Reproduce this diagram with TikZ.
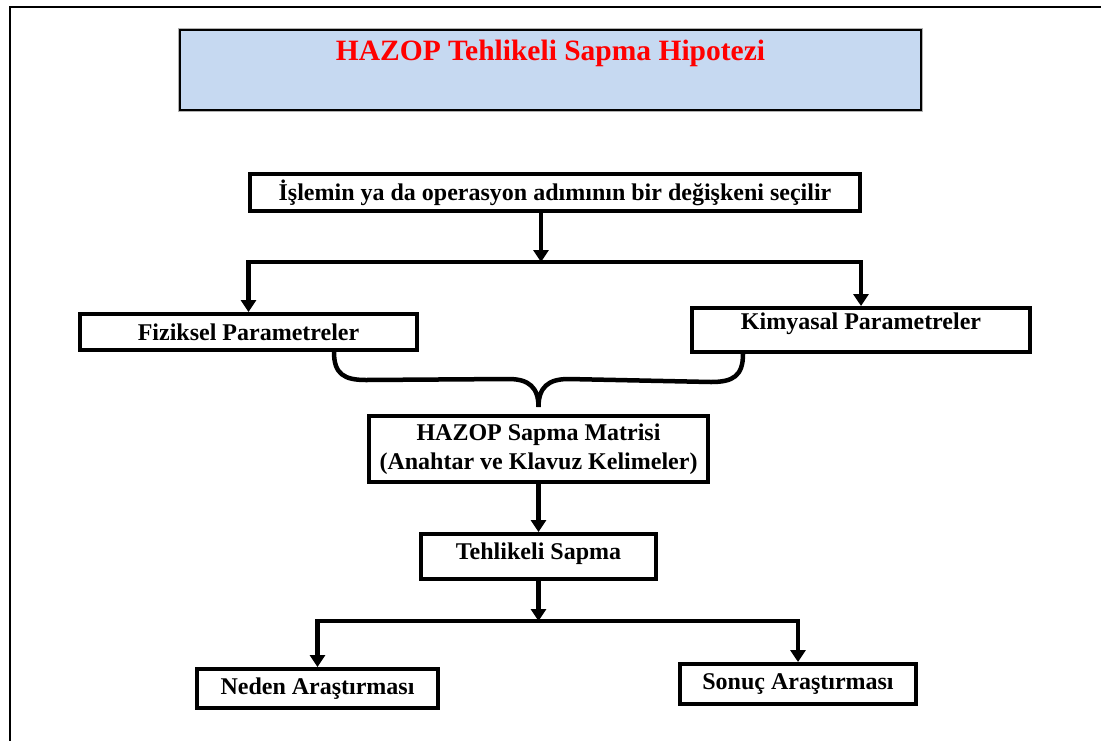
\documentclass[tikz,border=0pt]{standalone}
\usepackage{fontspec}
\setmainfont{Liberation Serif}
\usetikzlibrary{arrows.meta,calc}
\definecolor{titleblue}{HTML}{C6D9F1}
\tikzset{
  box/.style={draw, line width=4pt, inner sep=0pt, align=center,
    font=\fontsize{24}{29}\selectfont\bfseries},
  titlebox/.style={draw, line width=2pt, fill=titleblue, inner sep=0pt,
    preaction={draw=gray!60, line width=4pt},
    text=red, font=\fontsize{29.5}{34}\selectfont\bfseries},
  conn/.style={line width=4.5pt},
  tipa/.tip={Triangle[width=15pt,length=12pt]},
  arr/.style={conn, -tipa},
  arrboth/.style={conn, tipa-tipa},
}
\begin{document}
\begin{tikzpicture}[x=1pt,y=-1pt]
\useasboundingbox (0,0) rectangle (1101,740);
\fill[white] (0,0) rectangle (1101,740);
\draw[line width=2pt] (10,760) -- (10,7) -- (1120,7);

\node[titlebox, minimum width=741pt, minimum height=80pt, text depth=40pt] (title) at (550.5,70) {HAZOP Tehlikeli Sapma Hipotezi};

\node[box, minimum width=610pt, minimum height=37pt] (sel) at (555,192.5) {İşlemin ya da operasyon adımının bir değişkeni seçilir};
\node[box, minimum width=337pt, minimum height=36pt] (fiz) at (248.5,332) {Fiziksel Parametreler};
\node[box, minimum width=338pt, minimum height=44pt, text depth=18pt] (kim) at (861,330) {Kimyasal Parametreler};
\node[box, minimum width=339pt, minimum height=66pt] (mat) at (538.5,449) {HAZOP Sapma Matrisi\\(Anahtar ve Klavuz Kelimeler)};
\node[box, minimum width=235pt, minimum height=45pt, text depth=11pt] (teh) at (538.5,556.5) {Tehlikeli Sapma};
\node[box, minimum width=241pt, minimum height=39pt] (ned) at (317.5,688.5) {Neden Araştırması};
\node[box, minimum width=236pt, minimum height=40pt] (son) at (798,684) {Sonuç Araştırması};

\coordinate (j1) at (541,262);
\draw[arr] (sel.south -| j1) -- (j1);
\draw[arrboth] (fiz.north) -- (fiz.north |- j1) -- (kim.north |- j1) -- (kim.north);

\coordinate (bl) at ($(fiz.south)+(85.5,0)$);
\coordinate (br) at ($(kim.south)+(-118,0)$);
\coordinate (bt) at ($(mat.north)+(0,-7)$);
\draw[conn] (bl) .. controls ($(bl)+(0,22)$) and ($(bl)+(10,28)$) .. ($(bl)+(32,28)$)
  -- ($(bt)+(-30,-28)$) .. controls ($(bt)+(-10,-28)$) and ($(bt)+(0,-20)$) .. (bt)
  .. controls ($(bt)+(0,-20)$) and ($(bt)+(10,-28)$) .. ($(bt)+(30,-28)$)
  -- ($(br)+(-32,28)$) .. controls ($(br)+(-10,28)$) and ($(br)+(0,22)$) .. (br);

\draw[arr] (mat.south) -- (teh.north);
\coordinate (j2) at (538.5,621);
\draw[arr] (teh.south) -- (j2);
\draw[arrboth] (ned.north) -- (ned.north |- j2) -- (son.north |- j2) -- (son.north);
\end{tikzpicture}
\end{document}
